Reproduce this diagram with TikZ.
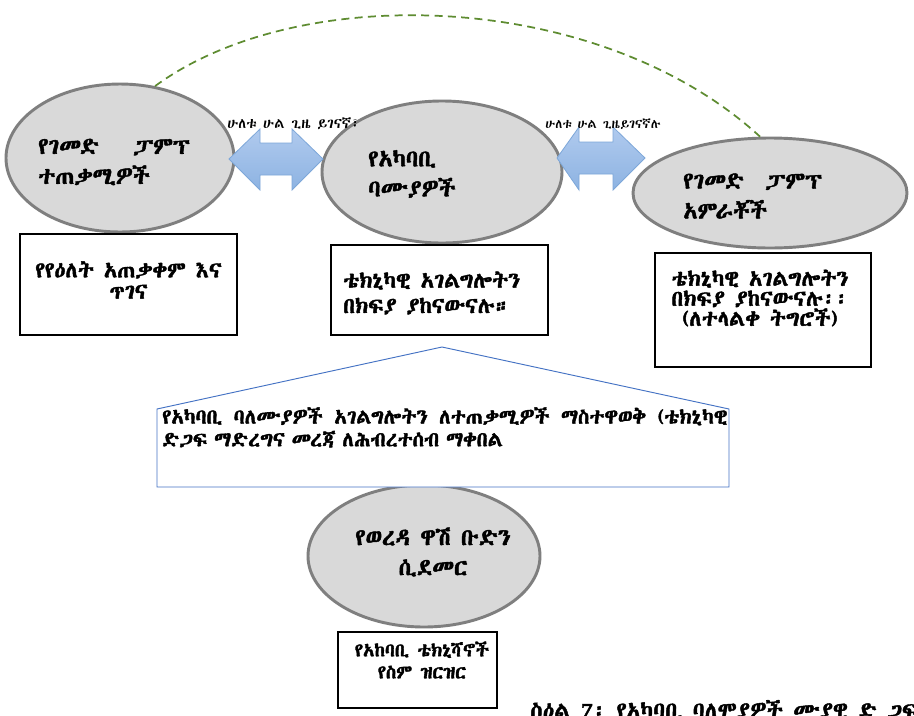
\documentclass[tikz,border=0pt]{standalone}
\usepackage{fontspec}
\IfFontExistsTF{Abyssinica SIL}{\setmainfont{Abyssinica SIL}[AutoFakeBold=2]}{%
 \IfFontExistsTF{FreeSerif}{\setmainfont{FreeSerif}[AutoFakeBold=2]}{%
  \IfFontExistsTF{FreeSans}{\setmainfont{FreeSans}[AutoFakeBold=2]}{\setmainfont{DejaVu Sans}}}}
\usetikzlibrary{shapes.geometric}
\definecolor{ellfill}{HTML}{D9D9D9}
\definecolor{elldraw}{HTML}{7F7F7F}
\definecolor{arrtop}{HTML}{B0CAEE}
\definecolor{arrbot}{HTML}{8DB3E2}
\definecolor{arrdraw}{HTML}{7DA7D9}
\definecolor{callblue}{HTML}{4472C4}
\definecolor{dashgreen}{HTML}{5E8C31}
\tikzset{
  ell/.style={ellipse, draw=elldraw, fill=ellfill, line width=2.2pt, inner sep=0pt},
  etext/.style={font=\fontsize{17.5}{22.5}\selectfont\bfseries, align=left, inner sep=0pt},
  boxn/.style={draw=black, line width=0.8pt, fill=white, inner sep=0pt},
  btext/.style={font=\fontsize{16.5}{16}\selectfont\bfseries, inner sep=0pt},
  arrowshape/.style={draw=arrdraw, line width=0.6pt, top color=arrtop, bottom color=arrbot},
  alabel/.style={font=\fontsize{10.7}{12}\selectfont, inner sep=0pt, anchor=west},
}
\begin{document}
\begin{tikzpicture}[x=0.75pt,y=-0.75pt]
\clip (0,0) rectangle (914,715);
\fill[white] (0,0) rectangle (914,715);

% ellipses
\node[ell, minimum width=228*0.75pt, minimum height=148*0.75pt] (e1) at (120,158) {};
\node[ell, minimum width=240*0.75pt, minimum height=142*0.75pt] (e2) at (442,172) {};
\node[ell, minimum width=274*0.75pt, minimum height=110*0.75pt] (e3) at (770,193) {};
\node[ell, minimum width=232*0.75pt, minimum height=142*0.75pt] (e4) at (424,556) {};

% ellipse texts
\node[etext, anchor=west] (t1) at (38,162) {የገመድ\quad\ ፓምፕ\\ተጠቃሚዎች};
\node[etext, anchor=west] (t2) at (368,174) {የአካባቢ\\ባሙያዎች};
\node[etext, anchor=west] (t3) at (683,196) {የገመድ\ \ ፓምፕ\\አምራቾች};
\node[etext, align=center] (t4) at (433,552) {የወረዳ ዋሽ ቡድን\\ሲደመር};

% boxes
\draw[boxn] (20,234) rectangle (237,335);
\node[btext, align=center] (b1) at (128.5,280) {የየዕለት አጠቃቀም እና\\ጥገና};
\draw[boxn] (331,245) rectangle (548,335);
\node[btext, align=left, anchor=west, font=\fontsize{16.5}{19}\selectfont\bfseries] (b2) at (343,293) {ቴክኒካዊ አገልግሎትን\\በክፍያ ያከናውናሉ።};
\draw[boxn] (655,253) rectangle (871,367);
\node[btext, align=center, font=\fontsize{16.5}{15}\selectfont\bfseries] (b3) at (760,298) {ቴክኒካዊ አገልግሎትን\\በክፍያ ያከናውናሉ፡፡\\(ለተላልቀ ትግሮች)};
\draw[boxn] (338,632) rectangle (497,708);
\node[btext, align=center, font=\fontsize{14}{16.5}\selectfont\bfseries] (b4) at (422,660) {የአከባቢ ቴክኒሻኖች\\የስም ዝርዝር};

% callout
\draw[callblue, line width=0.7pt, fill=white] (442,347) -- (729,409) -- (729,487) -- (157,487) -- (157,409) -- cycle;
\node[inner sep=0pt, anchor=north west, text width=424pt, font=\fontsize{15.5}{17}\selectfont\bfseries, align=left] (ct) at (162,407)
  {\setlength{\parfillskip}{0pt}የአካባቢ\hfill ባለሙያዎች\hfill አገልግሎትን\hfill ለተጠቃሚዎች\hfill ማስተዋወቅ\hfill (ቴክኒካዊ\\ድጋፍ ማድረግና መረጃ ለሕብረተሰብ ማቀበል};

% double arrows
\draw[arrowshape] (229,159) -- (260,129) -- (260,143) -- (292,143) -- (292,129) -- (323,159)
  -- (292,190) -- (292,175) -- (260,175) -- (260,190) -- cycle;
\draw[arrowshape] (557,158) -- (579,127) -- (579,142) -- (613,142) -- (613,127) -- (645,158)
  -- (613,190) -- (613,174) -- (579,174) -- (579,190) -- cycle;
\node[alabel] (l1) at (227,124) {ሁለቱ ሁል ጊዜ ይገናኛ፣};
\node[alabel, font=\fontsize{9.6}{12}\selectfont] (l2) at (545,124) {ሁለቱ ሁል ጊዜይገናኛሉ};

% dashed curve
\draw[dashgreen, line width=1.3pt, dash pattern=on 6pt off 4pt] (e1.64) .. controls (300,-20) and (600,-10) .. (e3.100);

% caption (cut at bottom)
\node[inner sep=0pt, anchor=base west, font=\fontsize{17}{18}\selectfont\bfseries] (cap) at (530,718) {ስዕል 7፡ የአካባቢ ባለሞያዎች ሙያዊ ድ ጋፍ};
\end{tikzpicture}
\end{document}
